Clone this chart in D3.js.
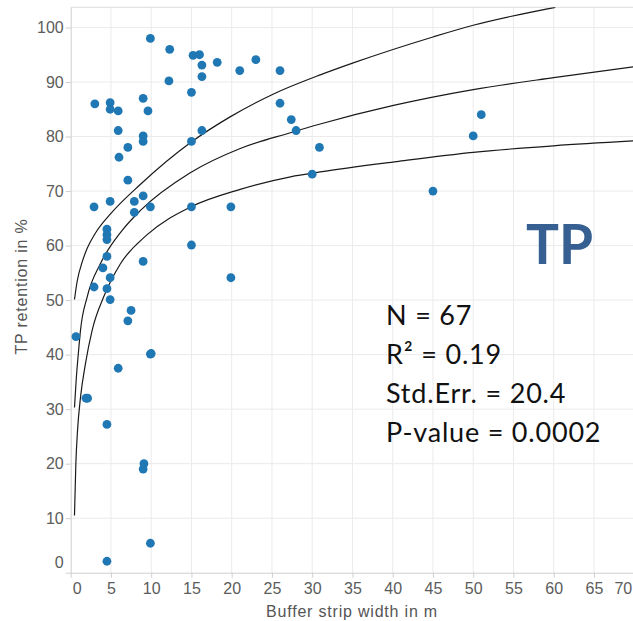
<!DOCTYPE html>
<html lang="en">
<head>
<meta charset="UTF-8">
<title>TP retention vs buffer strip width</title>
<style>
  body { margin: 0; background: #fff; }
  svg { display: block; }
</style>
</head>
<body>
<script src="https://cdn.jsdelivr.net/npm/d3@7"></script>
<script>
  // buffer strip width (m) and TP retention (%) for each study
  const widths = [3, 4.9, 4.9, 5.9, 5.9, 6, 7.1, 7.1, 2.9, 4.9, 7.9, 7.9, 9, 9.6, 9, 9, 9, 9.9, 9.9, 12.3,
    12.2, 15.2, 16, 16.3, 16.3, 15, 18.2, 21, 23, 26, 26, 27.4, 28, 15, 16.3, 15, 15, 19.9, 19.9, 30,
    30.9, 9, 4.5, 4.5, 4.5, 4.5, 4, 4.9, 2.9, 4.5, 4.9, 0.65, 7.1, 7.5, 9.9, 10, 5.9, 1.9, 2.1, 4.5,
    9.1, 9, 9.9, 4.5, 45, 50, 51];
  const retention = [86, 86.2, 85, 84.7, 81.1, 76.2, 78, 72, 67.1, 68.1, 68.1, 66.1, 87, 84.7, 80.1, 79.1, 69.1, 67.1, 98, 96,
    90.2, 94.9, 95, 93.1, 91, 88.1, 93.6, 92.1, 94.1, 92.1, 86.1, 83.1, 81.1, 79.1, 81.1, 67.1, 60.1, 67.1, 54.1, 73.1,
    78, 57.1, 63, 62, 61.1, 58, 55.9, 54.1, 52.4, 52.1, 50.1, 43.3, 46.2, 48.1, 40.1, 40.2, 37.5, 32, 32, 27.2,
    20, 19, 5.4, 2.1, 70, 80.1, 84];

  // fitted curve and its upper / lower band
  const fitX = [0.47, 0.68, 1.02, 1.22, 2.05, 3.7, 6.4, 8.64, 14.8, 21.06, 27.3, 31, 40.1, 50, 60, 70];
  const fitY = [30.3, 35.3, 41.4, 44.5, 50.6, 56.7, 62.8, 66.4, 73.3, 77.8, 80.7, 82.3, 85.7, 88.6, 90.8, 92.8];
  const upperX = [0.47, 0.81, 1.43, 2.05, 3.08, 5, 8.64, 14.9, 19.8, 25.2, 31, 35.1, 45.1, 50, 60.2];
  const upperY = [50.1, 53.5, 57, 59.5, 62.3, 65.9, 71.2, 78.9, 83.6, 87.8, 91.3, 93.5, 98.3, 100.4, 103.7];
  const lowerX = [0.47, 0.64, 0.85, 1.22, 1.84, 2.67, 4.1, 6.2, 9.5, 14.8, 21.06, 27.3, 31, 40.5, 50, 60, 70];
  const lowerY = [10.5, 20, 26.1, 32.2, 38.4, 44.5, 50.6, 56.7, 62, 67, 70.3, 72.6, 73.5, 75.4, 77.1, 78.3, 79.2];

  const xTicks = d3.range(0, 71, 5);
  const yTicks = d3.range(0, 101, 10);
  const statLines = ['N = 67', 'R² = 0.19', 'Std.Err. = 20.4', 'P-value = 0.0002'];

  const w = 633;
  const h = 621;

  const xScale = d3.scaleLinear().domain([0, 70]).range([70.7, 634.2]);
  const yScale = d3.scaleLinear().domain([0, 103.7]).range([572.7, 7.3]);

  const svg = d3.select('body').append('svg')
    .attr('width', w)
    .attr('height', h);

  const plotL = xScale(0), plotR = xScale(70), plotT = yScale(103.7), plotB = yScale(0);

  svg.append('clipPath').attr('id', 'plot')
    .append('rect')
    .attr('x', plotL).attr('y', plotT)
    .attr('width', plotR - plotL).attr('height', plotB - plotT);

  // grid
  svg.append('g').selectAll('line')
    .data(xTicks.slice(1))
    .enter().append('line')
    .attr('x1', d => xScale(d)).attr('x2', d => xScale(d))
    .attr('y1', plotT).attr('y2', plotB)
    .attr('stroke', '#ebebeb');
  svg.append('g').selectAll('line')
    .data(yTicks.slice(1))
    .enter().append('line')
    .attr('x1', plotL).attr('x2', plotR)
    .attr('y1', d => yScale(d)).attr('y2', d => yScale(d))
    .attr('stroke', '#ebebeb');

  // frame top
  svg.append('line')
    .attr('x1', plotL).attr('x2', plotR)
    .attr('y1', plotT).attr('y2', plotT)
    .attr('stroke', '#dcdcdc');

  // axes
  const xAxis = svg.append('g')
    .attr('transform', `translate(0,${plotB})`)
    .call(d3.axisBottom(xScale).tickValues(xTicks).tickSize(5).tickSizeOuter(0).tickPadding(5));
  const yAxis = svg.append('g')
    .attr('transform', `translate(${plotL},0)`)
    .call(d3.axisLeft(yScale).tickValues(yTicks).tickSize(5).tickSizeOuter(0).tickPadding(2));

  [xAxis, yAxis].forEach(g => {
    g.select('.domain').attr('stroke', '#cfcfcf');
    g.selectAll('.tick line').attr('stroke', '#cfcfcf');
    g.selectAll('.tick text')
      .attr('fill', '#5c5c5c')
      .style('font-family', '"Liberation Sans", Arial, sans-serif')
      .style('font-size', '16px');
  });
  // flush end labels
  xAxis.selectAll('.tick text').filter(d => d === 0).attr('text-anchor', 'start').attr('x', 1.5);
  xAxis.selectAll('.tick text').filter(d => d === 70).attr('text-anchor', 'end').attr('x', -2.5);
  yAxis.selectAll('.tick text').filter(d => d === 0).attr('dy', '-0.34em');

  // axis titles
  svg.append('text')
    .attr('x', 352).attr('y', 617)
    .attr('text-anchor', 'middle')
    .attr('fill', '#555')
    .style('font-family', '"Liberation Sans", Arial, sans-serif')
    .style('font-size', '16px')
    .style('letter-spacing', '0.8px')
    .text('Buffer strip width in m');
  svg.append('text')
    .attr('transform', 'translate(26.5,286.5) rotate(-90)')
    .attr('text-anchor', 'middle')
    .attr('fill', '#555')
    .style('font-family', '"Liberation Sans", Arial, sans-serif')
    .style('font-size', '16px')
    .style('letter-spacing', '0.8px')
    .text('TP retention in %');

  // curves
  const line = d3.line()
    .x(d => xScale(d[0]))
    .y(d => yScale(d[1]))
    .curve(d3.curveMonotoneX);
  const curves = [
    d3.zip(upperX, upperY),
    d3.zip(fitX, fitY),
    d3.zip(lowerX, lowerY)
  ];
  svg.append('g')
    .attr('clip-path', 'url(#plot)')
    .selectAll('path')
    .data(curves)
    .enter().append('path')
    .attr('d', line)
    .attr('fill', 'none')
    .attr('stroke', '#1a1a1a')
    .attr('stroke-width', 1.2);

  // points
  svg.append('g').selectAll('circle')
    .data(d3.zip(widths, retention))
    .enter().append('circle')
    .attr('cx', d => xScale(d[0]))
    .attr('cy', d => yScale(d[1]))
    .attr('r', 4.4)
    .attr('fill', '#1f77b4');

  // big label
  svg.append('text')
    .attr('x', 526).attr('y', 263.5)
    .attr('fill', '#376092')
    .style('font-family', 'Lato, "Open Sans", sans-serif')
    .style('font-weight', 'bold')
    .style('font-size', '55px')
    .text('TP');

  // stats block
  svg.append('g').selectAll('text')
    .data(statLines)
    .enter().append('text')
    .attr('x', 386)
    .attr('y', (d, i) => 325 + i * 38.9)
    .attr('fill', '#111')
    .style('font-family', 'Lato, "Open Sans", sans-serif')
    .style('font-size', '27px')
    .style('letter-spacing', '0.8px')
    .text(d => d);
</script>
</body>
</html>
